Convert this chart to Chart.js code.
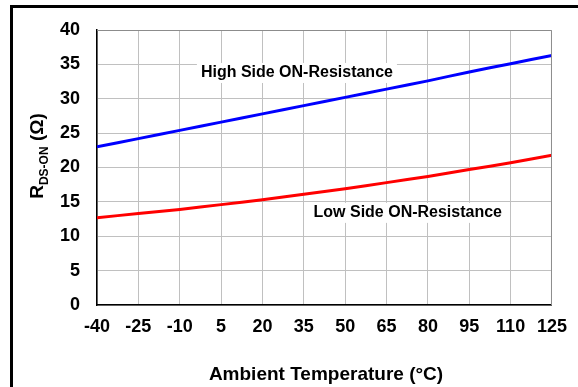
<!DOCTYPE html>
<html>
<head>
<meta charset="utf-8">
<script src="https://cdn.jsdelivr.net/npm/chart.js@4.4.0/dist/chart.umd.min.js"></script>
<style>
  html, body { margin: 0; padding: 0; background: #fff; }
  #wrap { width: 578px; height: 387px; position: relative; }
</style>
</head>
<body>
<div id="wrap"><canvas id="rdsChart" width="578" height="387"></canvas></div>
<script>
// temperature points (°C) and on-resistance readings (ohm)
const temps = [-40, -25, -10, 5, 20, 35, 50, 65, 80, 95, 110, 125];
const highSide = [23.0, 24.2, 25.4, 26.6, 27.8, 29.0, 30.2, 31.4, 32.6, 33.9, 35.1, 36.3];
const lowSide = [12.7, 13.3, 13.9, 14.6, 15.3, 16.1, 16.9, 17.8, 18.7, 19.7, 20.7, 21.8];
const xTicks = [-40, -25, -10, 5, 20, 35, 50, 65, 80, 95, 110, 125];
const yTicks = [0, 5, 10, 15, 20, 25, 30, 35, 40];

const FONT = 'Liberation Sans, Arial, sans-serif';

// frame, plot border, axis titles and inline labels
const decorPlugin = {
  id: 'decor',
  beforeDraw(chart) {
    const ctx = chart.ctx;
    ctx.save();
    ctx.fillStyle = '#fff';
    ctx.fillRect(0, 0, chart.width, chart.height);
    ctx.restore();
  },
  afterDraw(chart) {
    const ctx = chart.ctx;
    const a = chart.chartArea;
    ctx.save();

    // outer frame
    ctx.strokeStyle = '#000';
    ctx.lineWidth = 3;
    ctx.strokeRect(11.5, 6.5, chart.width + 10, chart.height + 10);

    // top / right plot border
    ctx.strokeStyle = '#8c8c8c';
    ctx.lineWidth = 1;
    ctx.beginPath();
    ctx.moveTo(a.left, a.top + 0.5);
    ctx.lineTo(a.right - 0.5, a.top + 0.5);
    ctx.lineTo(a.right - 0.5, a.bottom);
    ctx.stroke();

    // inline series labels with white box
    const xs = chart.scales.x, ys = chart.scales.y;
    function label(text, tx, ty) {
      ctx.font = 'bold 16px ' + FONT;
      const w = ctx.measureText(text).width;
      const cx = xs.getPixelForValue(tx), cy = ys.getPixelForValue(ty);
      ctx.fillStyle = '#fff';
      ctx.fillRect(cx - w / 2 - 4, cy - 10, w + 8, 20);
      ctx.fillStyle = '#000';
      ctx.textAlign = 'center';
      ctx.textBaseline = 'middle';
      ctx.fillText(text, cx, cy);
    }
    label('High Side ON-Resistance', 32.5, 33.75);
    label('Low Side ON-Resistance', 72.7, 13.4);

    // x title
    ctx.fillStyle = '#000';
    ctx.font = 'bold 19px ' + FONT;
    ctx.textAlign = 'center';
    ctx.textBaseline = 'middle';
    ctx.fillText('Ambient Temperature (°C)', 326, 375);

    // y title with subscript
    ctx.translate(36, 156);
    ctx.rotate(-Math.PI / 2);
    const big = 'bold 19px ' + FONT, small = 'bold 12px ' + FONT;
    ctx.font = big; const wR = ctx.measureText('R').width;
    ctx.font = small; const wS = ctx.measureText('DS-ON').width;
    ctx.font = big; const wO = ctx.measureText(' (Ω)').width;
    let x0 = -(wR + wS + wO) / 2;
    ctx.textAlign = 'left';
    ctx.textBaseline = 'alphabetic';
    ctx.font = big; ctx.fillText('R', x0, 7);
    ctx.font = small; ctx.fillText('DS-ON', x0 + wR, 12);
    ctx.font = big; ctx.fillText(' (Ω)', x0 + wR + wS, 7);
    ctx.restore();
  }
};

const ctx = document.getElementById('rdsChart').getContext('2d');
new Chart(ctx, {
  type: 'line',
  data: {
    datasets: [
      { label: 'High Side', data: temps.map((t, i) => ({ x: t, y: highSide[i] })), borderColor: '#0000ff', borderWidth: 3, pointRadius: 0, fill: false, tension: 0.3 },
      { label: 'Low Side', data: temps.map((t, i) => ({ x: t, y: lowSide[i] })), borderColor: '#ff0000', borderWidth: 3, pointRadius: 0, fill: false, tension: 0.3 }
    ]
  },
  options: {
    responsive: false,
    animation: false,
    layout: { padding: { top: 30, right: 25, left: 0, bottom: 0 } },
    plugins: { legend: { display: false }, tooltip: { enabled: false } },
    scales: {
      x: {
        type: 'linear', min: -40, max: 125,
        afterBuildTicks: s => { s.ticks = xTicks.map(v => ({ value: v })); },
        afterFit: s => { s.height = 82; },
        ticks: { color: '#000', font: { family: FONT, size: 18, weight: 'bold' }, padding: 11, maxRotation: 0, autoSkip: false },
        grid: { color: '#c0c0c0', drawTicks: false },
        border: { color: '#000', width: 1.5 }
      },
      y: {
        min: 0, max: 40,
        afterBuildTicks: s => { s.ticks = yTicks.map(v => ({ value: v })); },
        afterFit: s => { s.width = 97; },
        ticks: { color: '#000', font: { family: FONT, size: 18, weight: 'bold' }, padding: 17 },
        grid: { color: '#c0c0c0', drawTicks: false },
        border: { color: '#000', width: 1.5 }
      }
    }
  },
  plugins: [decorPlugin]
});
</script>
</body>
</html>
